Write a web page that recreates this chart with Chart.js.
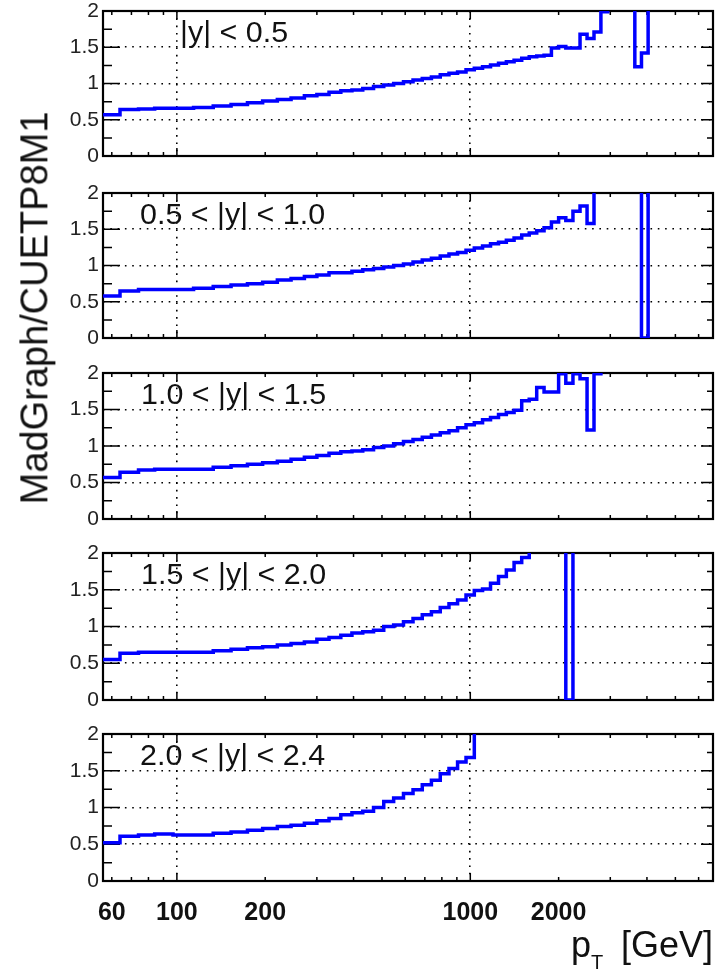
<!DOCTYPE html>
<html><head><meta charset="utf-8">
<script src="https://cdn.jsdelivr.net/npm/chart.js@4.4.0/dist/chart.umd.min.js"></script>
<style>
html,body{margin:0;padding:0;background:#fff;width:718px;height:975px;overflow:hidden;font-family:"Liberation Sans",Arial,Helvetica,sans-serif;}
canvas{position:absolute;left:0;}
.lab{position:absolute;white-space:nowrap;line-height:1;color:#111;transform-origin:0 0;}
</style></head><body>
<canvas id="c0"></canvas><canvas id="c1"></canvas><canvas id="c2"></canvas><canvas id="c3"></canvas><canvas id="c4"></canvas>
<div id="texts"></div>
<script>
// ---- data ----
const ptEdges = [56,64,74,84,97,114,133,153,174,196,220,245,272,300,330,362,395,430,468,507,548,592,638,686,737,790,846,905,967,1032,1101,1172,1248,1327,1410,1497,1588,1684,1784,1890,2000,2116,2238,2366,2500,2640,2787,2941,3103,3273,3450,3637,3832,4037,4252,4477,4713,4961,5220,5492,5777,6076,6389,6717];
const rapidityLabels = ['|y| < 0.5','0.5 < |y| < 1.0','1.0 < |y| < 1.5','1.5 < |y| < 2.0','2.0 < |y| < 2.4'];
const ratioY00 = [0.57,0.64,0.65,0.66,0.66,0.67,0.69,0.71,0.735,0.76,0.78,0.80,0.83,0.85,0.88,0.90,0.91,0.93,0.96,0.98,1.00,1.025,1.05,1.07,1.09,1.12,1.14,1.16,1.19,1.21,1.23,1.255,1.28,1.30,1.32,1.35,1.37,1.38,1.39,1.49,1.51,1.49,1.49,1.68,1.62,1.71,1.99,2.6,2.6,2.6,2.6,1.23,1.42,2.6,2.6,2.6,2.6,2.6,2.6,2.6,2.6,2.6,2.6];
const ratioY05 = [0.58,0.65,0.67,0.67,0.67,0.685,0.71,0.73,0.75,0.77,0.80,0.82,0.85,0.87,0.90,0.90,0.92,0.94,0.96,0.98,1.00,1.02,1.05,1.075,1.10,1.13,1.16,1.18,1.21,1.24,1.27,1.30,1.32,1.35,1.38,1.42,1.45,1.48,1.52,1.60,1.66,1.62,1.75,1.82,1.58,2.6,2.6,2.6,2.6,2.6,2.6,2.6,0,2.6,2.6,2.6,2.6,2.6,2.6,2.6,2.6,2.6,2.6];
const ratioY10 = [0.57,0.64,0.67,0.68,0.68,0.68,0.71,0.73,0.75,0.77,0.79,0.82,0.845,0.87,0.90,0.92,0.93,0.95,0.98,1.00,1.03,1.06,1.09,1.12,1.15,1.18,1.21,1.25,1.29,1.32,1.36,1.39,1.43,1.46,1.49,1.62,1.64,1.80,1.74,1.74,1.99,1.86,1.99,1.92,1.22,1.99,2.6,2.6,2.6,2.6,2.6,2.6,2.6,2.6,2.6,2.6,2.6,2.6,2.6,2.6,2.6,2.6,2.6];
const ratioY15 = [0.55,0.635,0.65,0.65,0.65,0.65,0.67,0.69,0.71,0.725,0.75,0.77,0.79,0.825,0.85,0.88,0.91,0.93,0.95,1.00,1.02,1.065,1.11,1.16,1.20,1.26,1.31,1.36,1.43,1.49,1.51,1.59,1.68,1.77,1.87,1.94,2.6,2.6,2.6,2.6,2.6,0,2.6,2.6,2.6,2.6,2.6,2.6,2.6,2.6,2.6,2.6,2.6,2.6,2.6,2.6,2.6,2.6,2.6,2.6,2.6,2.6,2.6];
const ratioY20 = [0.52,0.61,0.625,0.64,0.625,0.625,0.65,0.665,0.69,0.715,0.74,0.76,0.785,0.82,0.85,0.90,0.93,0.95,1.00,1.08,1.13,1.19,1.24,1.31,1.37,1.46,1.53,1.62,1.68,2.6,2.6,2.6,2.6,2.6,2.6,2.6,2.6,2.6,2.6,2.6,2.6,2.6,2.6,2.6,2.6,2.6,2.6,2.6,2.6,2.6,2.6,2.6,2.6,2.6,2.6,2.6,2.6,2.6,2.6,2.6,2.6,2.6,2.6];
const xTickLabels = [60,100,200,1000,2000];
const xGridValues = [100,1000];
const xMinorTicks = [60,70,80,90,200,300,400,500,600,700,800,900,2000,3000,4000,5000,6000];
const yTickValues = [0,0.5,1,1.5,2];
const yMinorTicks = [0.25,0.75,1.25,1.75];
const yTitle = 'MadGraph/CUETP8M1';

// ---- layout (positions only) ----
const FONT = '"Liberation Sans", Arial, Helvetica, sans-serif';
const panels = [
  {id:'c0', top:11,  bottom:156, values:ratioY00, lx:180},
  {id:'c1', top:193, bottom:338, values:ratioY05, lx:140},
  {id:'c2', top:373, bottom:519, values:ratioY10, lx:141},
  {id:'c3', top:553, bottom:700, values:ratioY15, lx:141},
  {id:'c4', top:734, bottom:881, values:ratioY20, lx:140}
];

const frameTicks = {
  id: 'frameTicks',
  beforeDatasetsDraw(chart) {
    const {ctx, chartArea: a} = chart;
    const x = chart.scales.x, y = chart.scales.y;
    ctx.save();
    ctx.strokeStyle = '#000';
    ctx.lineWidth = 1.5;
    ctx.beginPath();
    xMinorTicks.forEach(v => {
      const px = x.getPixelForValue(v);
      ctx.moveTo(px, a.bottom); ctx.lineTo(px, a.bottom - 4);
      ctx.moveTo(px, a.top); ctx.lineTo(px, a.top + 4);
    });
    xGridValues.forEach(v => {
      const px = x.getPixelForValue(v);
      ctx.moveTo(px, a.bottom); ctx.lineTo(px, a.bottom - 8);
      ctx.moveTo(px, a.top); ctx.lineTo(px, a.top + 8);
    });
    yTickValues.forEach(v => {
      const py = y.getPixelForValue(v);
      ctx.moveTo(a.left, py); ctx.lineTo(a.left + 17, py);
      ctx.moveTo(a.right, py); ctx.lineTo(a.right - 12, py);
    });
    yMinorTicks.forEach(v => {
      const py = y.getPixelForValue(v);
      ctx.moveTo(a.left, py); ctx.lineTo(a.left + 9, py);
      ctx.moveTo(a.right, py); ctx.lineTo(a.right - 6, py);
    });
    ctx.stroke();
    ctx.lineWidth = 2.2;
    ctx.strokeRect(a.left, a.top, a.right - a.left, a.bottom - a.top);
    ctx.restore();
  }
};

panels.forEach((p, i) => {
  const isLast = i === panels.length - 1;
  const padTop = 20;
  const padBottom = isLast ? 0 : 20;
  const xAxisH = isLast ? 52 : 0;
  const canvas = document.getElementById(p.id);
  canvas.width = 718;
  canvas.height = padTop + (p.bottom - p.top) + xAxisH + padBottom;
  canvas.style.top = (p.top - padTop) + 'px';
  const pts = ptEdges.map((e, k) => ({x: e, y: p.values[Math.min(k, p.values.length - 1)]}));
  new Chart(canvas, {
    type: 'line',
    data: {datasets: [{data: pts, stepped: 'before', borderColor: '#0000ff', borderWidth: 3.5,
      pointRadius: 0, fill: false, tension: 0, borderJoinStyle: 'miter', borderCapStyle: 'butt'}]},
    options: {
      responsive: false, animation: false, devicePixelRatio: 1,
      layout: {padding: {top: padTop, bottom: padBottom, left: 0, right: 5}},
      plugins: {legend: {display: false}, tooltip: {enabled: false}, title: {display: false}},
      scales: {
        x: {
          type: 'logarithmic', min: ptEdges[0], max: ptEdges[ptEdges.length - 1],
          afterBuildTicks: s => { s.ticks = xTickLabels.map(v => ({value: v})); },
          afterFit: s => { s.height = xAxisH; },
          grid: {drawTicks: false, lineWidth: 1.6,
            color: c => (c.tick && xGridValues.includes(c.tick.value)) ? '#000' : 'rgba(0,0,0,0)'},
          border: {display: false, dash: [1.6, 5.7]},
          ticks: {display: isLast, autoSkip: false, maxRotation: 0, minRotation: 0, padding: 17,
            font: {family: FONT, size: 25, weight: 'bold'}, color: '#111', callback: v => String(v)}
        },
        y: {
          min: 0, max: 2,
          afterBuildTicks: s => { s.ticks = yTickValues.map(v => ({value: v})); },
          afterFit: s => { s.width = 103; },
          grid: {drawTicks: false, lineWidth: 1.6,
            color: c => (c.tick && c.tick.value > 0 && c.tick.value < 2) ? '#000' : 'rgba(0,0,0,0)'},
          border: {display: false, dash: [1.6, 5.7]},
          ticks: {padding: 4, font: {family: FONT, size: 21}, color: '#222', callback: v => String(v)}
        }
      }
    },
    plugins: [frameTicks]
  });
});

// ---- text ----
const texts = document.getElementById('texts');
function addText(html, left, top, size, extra) {
  const d = document.createElement('div');
  d.className = 'lab';
  d.style.left = left + 'px';
  d.style.top = top + 'px';
  d.style.fontSize = size + 'px';
  if (extra) Object.assign(d.style, extra);
  d.innerHTML = html;
  texts.appendChild(d);
  return d;
}
panels.forEach((p, i) => {
  addText(rapidityLabels[i], p.lx, p.top + 32 - 25, 29, {transform: 'scaleX(1.05)'});
});
// y-axis title rotated
const yt = addText(yTitle, 0, 0, 38, {transformOrigin: '50% 50%'});
const w = yt.offsetWidth, h = yt.offsetHeight;
yt.style.left = (34 - w / 2) + 'px';
yt.style.top = (308 - h / 2) + 'px';
yt.style.transform = 'rotate(-90deg)';
// x-axis title
addText('p<sub style="font-size:20px;vertical-align:-12px">T</sub>', 571, 927, 36);
addText('[GeV]', 621, 927, 36);
</script>
</body></html>
